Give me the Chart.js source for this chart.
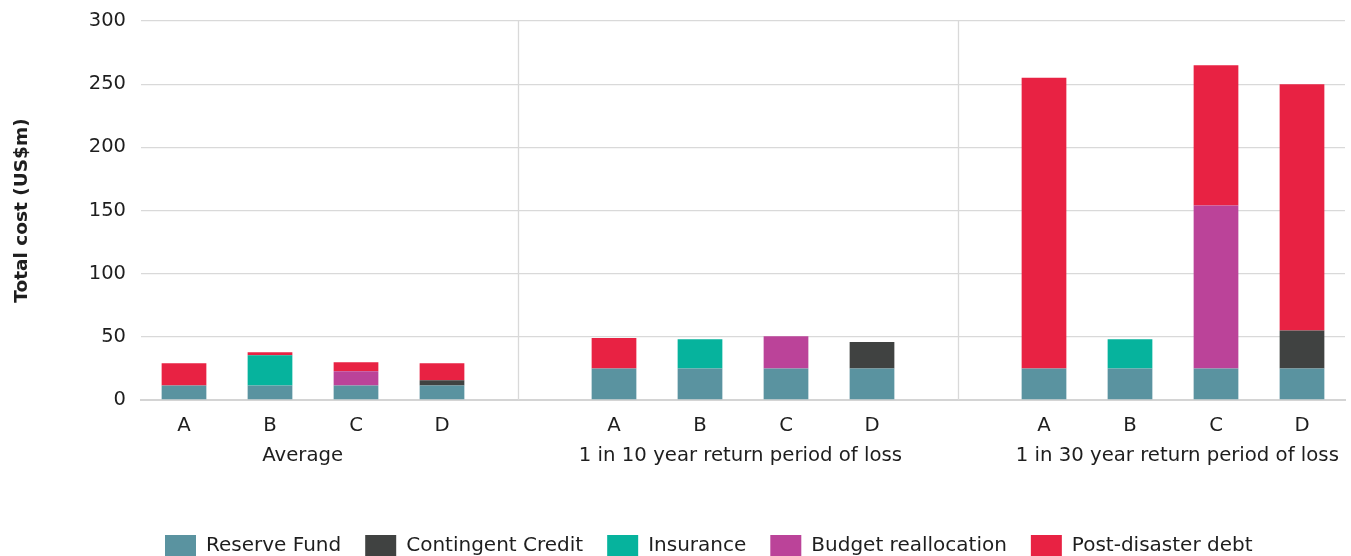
<!DOCTYPE html>
<html>
<head>
<meta charset="utf-8">
<script src="https://cdn.jsdelivr.net/npm/chart.js@4.4.0/dist/chart.umd.min.js"></script>
<style>
  html, body { margin: 0; padding: 0; background: #ffffff; }
  #wrap { width: 1351px; height: 556px; position: relative; }
</style>
</head>
<body>
<div id="wrap"><canvas id="c" width="1351" height="556"></canvas></div>
<script>
// Categories (blank slots separate the three groups)
const categories = ['A', 'B', 'C', 'D', '', 'A', 'B', 'C', 'D', '', 'A', 'B', 'C', 'D'];
const groupLabels = ['Average', '1 in 10 year return period of loss', '1 in 30 year return period of loss'];
const yTicks = [0, 50, 100, 150, 200, 250, 300];

// Series values (US$m)
const reserveFund        = [11.5, 11.5, 11.5, 11.5, null, 25, 25, 25, 25, null, 25, 25, 25, 25];
const contingentCredit   = [0, 0, 0, 4.1, null, 0, 0, 0, 21, null, 0, 0, 0, 30];
const insurance          = [0, 24, 0, 0, null, 0, 23, 0, 0, null, 0, 23, 0, 0];
const budgetReallocation = [0, 0, 11.3, 0, null, 0, 0, 25.5, 0, null, 0, 0, 129, 0];
const postDisasterDebt   = [17.6, 2.3, 7.1, 13.5, null, 24, 0, 0, 0, null, 230, 0, 111, 195];

const FONT = "'DejaVu Sans', sans-serif";
const TEXT = '#1e1e1e';

const groupsPlugin = {
  id: 'groups',
  beforeDatasetsDraw(chart) {
    const { ctx, chartArea, scales: { x } } = chart;
    ctx.save();
    ctx.strokeStyle = '#d9d9d9';
    ctx.lineWidth = 1.3;
    [3.885, 9].forEach(v => {
      const px = Math.round(x.getPixelForValue(v)) + 0.5;
      ctx.beginPath();
      ctx.moveTo(px, chartArea.top);
      ctx.lineTo(px, chartArea.bottom);
      ctx.stroke();
    });
    ctx.restore();
  },
  afterDraw(chart) {
    const { ctx, chartArea, scales: { x } } = chart;
    ctx.save();
    ctx.fillStyle = TEXT;
    ctx.font = "19.7px " + FONT;
    ctx.textAlign = 'center';
    ctx.textBaseline = 'middle';
    [1.38, 6.47, 11.55].forEach((v, i) => {
      ctx.fillText(groupLabels[i], x.getPixelForValue(v), chartArea.bottom + 56);
    });
    ctx.restore();
  }
};

new Chart(document.getElementById('c'), {
  type: 'bar',
  data: {
    labels: categories,
    datasets: [
      { label: 'Reserve Fund', data: reserveFund, backgroundColor: '#5a93a0' },
      { label: 'Contingent Credit', data: contingentCredit, backgroundColor: '#404241' },
      { label: 'Insurance', data: insurance, backgroundColor: '#06b39d' },
      { label: 'Budget reallocation', data: budgetReallocation, backgroundColor: '#bb4399' },
      { label: 'Post-disaster debt', data: postDisasterDebt, backgroundColor: '#e82243' }
    ]
  },
  options: {
    responsive: false,
    animation: false,
    devicePixelRatio: 1,
    datasets: { bar: { barPercentage: 0.52, categoryPercentage: 1, borderWidth: 0 } },
    layout: { padding: { top: 21, right: 6, left: 0, bottom: -11 } },
    scales: {
      x: {
        stacked: true,
        grid: { display: false, drawTicks: false },
        border: { display: true, color: '#d4d4d4', width: 2 },
        ticks: { color: TEXT, font: { family: FONT, size: 19.7 }, padding: 14, maxRotation: 0, autoSkip: false },
        afterFit(scale) { scale.height = 111; }
      },
      y: {
        stacked: true,
        min: 0,
        max: 300,
        afterBuildTicks(scale) { scale.ticks = yTicks.map(v => ({ value: v })); },
        grid: { color: '#d9d9d9', lineWidth: 1.3, drawTicks: true, tickLength: 15, tickColor: 'rgba(0,0,0,0)' },
        border: { display: false },
        ticks: { color: TEXT, font: { family: FONT, size: 19.5 }, padding: 0 },
        title: {
          display: true,
          text: 'Total cost (US$m)',
          color: TEXT,
          font: { family: FONT, size: 18.5, weight: 'bold' },
          padding: { top: 11, bottom: 0 }
        },
        afterFit(scale) { scale.width = 141; }
      }
    },
    plugins: {
      tooltip: { enabled: false },
      legend: {
        position: 'bottom',
        fullSize: false,
        align: 'start',
        labels: {
          color: TEXT,
          font: { family: FONT, size: 20 },
          boxWidth: 31,
          boxHeight: 22,
          padding: 24
        }
      }
    }
  },
  plugins: [groupsPlugin]
});
</script>
</body>
</html>
